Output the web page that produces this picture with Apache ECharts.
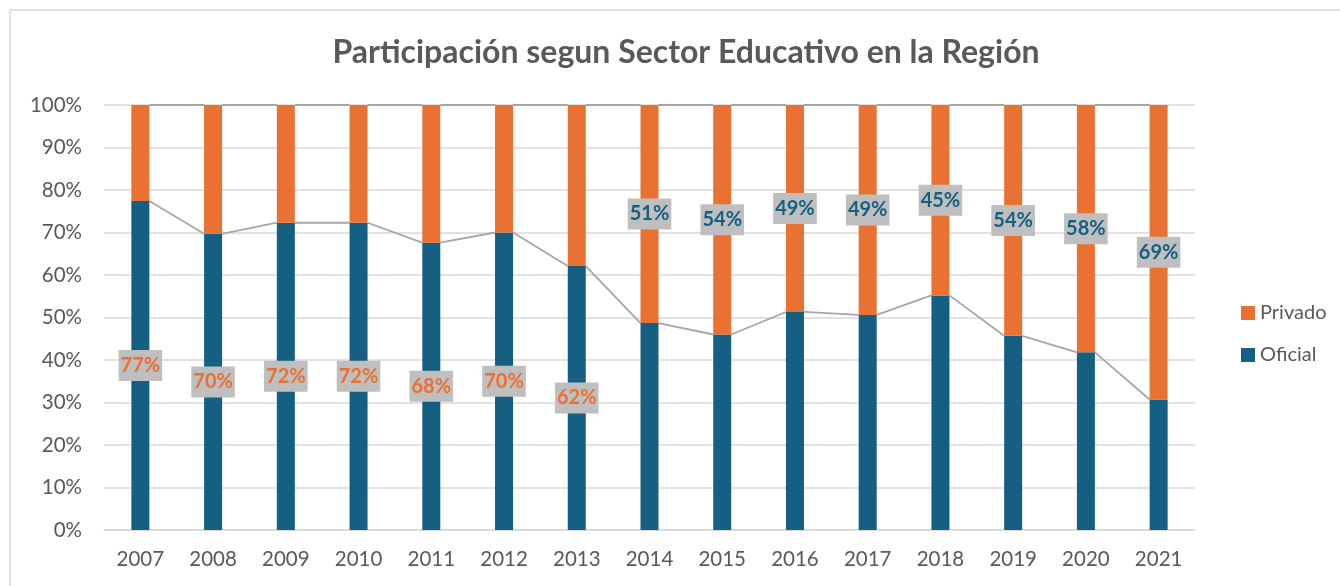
<!DOCTYPE html>
<html>
<head>
<meta charset="utf-8">
<script src="https://cdn.jsdelivr.net/npm/echarts@6/dist/echarts.min.js"></script>
<style>
    html, body { margin: 0; padding: 0; background: #fff; }
    #main { width: 1340px; height: 586px; }
</style>
</head>
<body>
<div id="main"></div>
<script>
    // data
    var years = ['2007', '2008', '2009', '2010', '2011', '2012', '2013', '2014',
        '2015', '2016', '2017', '2018', '2019', '2020', '2021'];
    var oficial = [77.4, 69.7, 72.3, 72.3, 67.6, 70.0, 62.1, 48.7, 46.0, 51.3, 50.6, 55.2, 45.7, 41.8, 30.7];
    var privado = [22.6, 30.3, 27.7, 27.7, 32.4, 30.0, 37.9, 51.3, 54.0, 48.7, 49.4, 44.8, 54.3, 58.2, 69.3];
    var yTicks = [0, 10, 20, 30, 40, 50, 60, 70, 80, 90, 100];
    // which series carries the label for each year
    var labelOn = ['O', 'O', 'O', 'O', 'O', 'O', 'O', 'P', 'P', 'P', 'P', 'P', 'P', 'P', 'P'];

    var BLUE = '#156082';
    var ORANGE = '#e97132';
    var TXT = '#595959';

    function labelBox(color) {
        return {
            show: true,
            position: 'inside',
            color: color,
            fontFamily: 'Lato',
            fontWeight: 'bold',
            fontSize: 20,
            backgroundColor: '#bfbfbf',
            padding: [6, 2, 5, 2],
            formatter: function (p) { return Math.round(p.value) + '%'; }
        };
    }

    var oficialData = oficial.map(function (v, i) {
        return labelOn[i] === 'O' ? {value: v, label: labelBox(ORANGE)} : {value: v};
    });
    var privadoData = privado.map(function (v, i) {
        return labelOn[i] === 'P' ? {value: v, label: labelBox(BLUE)} : {value: v};
    });

    // series lines (Excel style) between neighbouring bars
    var lineData = [];
    for (var i = 0; i < years.length - 1; i++) {
        lineData.push([i, oficial[i], oficial[i + 1], oficial[i] + privado[i], oficial[i + 1] + privado[i + 1]]);
    }

    var BAR_W = 18;

    var myChart = echarts.init(document.getElementById('main'));
    myChart.setOption({
        animation: false,
        textStyle: {fontFamily: 'Lato'},
        graphic: [{
            type: 'rect',
            shape: {x: 10, y: 10, width: 1400, height: 700},
            style: {fill: 'none', stroke: '#d9d9d9', lineWidth: 1.5},
            silent: true
        }],
        title: {
            text: 'Participación segun Sector Educativo en la Región',
            left: 681,
            textAlign: 'center',
            top: 32,
            textStyle: {
                fontFamily: 'Lato',
                fontSize: 32,
                fontWeight: 'bold',
                color: TXT
            }
        },
        legend: {
            data: ['Privado', 'Oficial'],
            orient: 'vertical',
            left: 1236,
            top: 298,
            itemWidth: 14,
            itemHeight: 14,
            itemGap: 22,
            icon: 'rect',
            textStyle: {fontSize: 20, color: TXT, fontFamily: 'Lato'}
        },
        grid: {
            left: 104,
            right: 145,
            top: 105,
            bottom: 56
        },
        xAxis: {
            type: 'category',
            data: years,
            axisTick: {show: false},
            axisLine: {lineStyle: {color: '#d9d9d9', width: 1.5}},
            axisLabel: {fontSize: 20.5, color: TXT, margin: 19}
        },
        yAxis: {
            type: 'value',
            min: 0,
            max: 100,
            interval: 10,
            axisLabel: {
                fontSize: 20.5,
                color: TXT,
                margin: 22,
                formatter: function (v) { return yTicks.indexOf(v) >= 0 ? v + '%' : ''; }
            },
            splitLine: {lineStyle: {color: '#d9d9d9', width: 1.5}}
        },
        series: [
            {
                name: 'Oficial',
                type: 'bar',
                stack: 'total',
                barWidth: BAR_W,
                itemStyle: {color: BLUE},
                data: oficialData,
                z: 2
            },
            {
                name: 'Privado',
                type: 'bar',
                stack: 'total',
                barWidth: BAR_W,
                itemStyle: {color: ORANGE},
                data: privadoData,
                z: 2
            },
            {
                name: 'lines',
                type: 'custom',
                silent: true,
                z: 1,
                data: lineData,
                renderItem: function (params, api) {
                    var x0 = api.value(0);
                    var a1 = api.coord([x0, api.value(1)]);
                    var a2 = api.coord([x0 + 1, api.value(2)]);
                    var b1 = api.coord([x0, api.value(3)]);
                    var b2 = api.coord([x0 + 1, api.value(4)]);
                    var h = BAR_W / 2;
                    var st = {stroke: '#a6a6a6', lineWidth: 1.8, fill: null};
                    return {
                        type: 'group',
                        children: [
                            {type: 'line', shape: {x1: a1[0] + h, y1: a1[1], x2: a2[0] - h, y2: a2[1]}, style: st},
                            {type: 'line', shape: {x1: b1[0] + h, y1: b1[1], x2: b2[0] - h, y2: b2[1]}, style: st}
                        ]
                    };
                }
            }
        ]
    });
</script>
</body>
</html>
